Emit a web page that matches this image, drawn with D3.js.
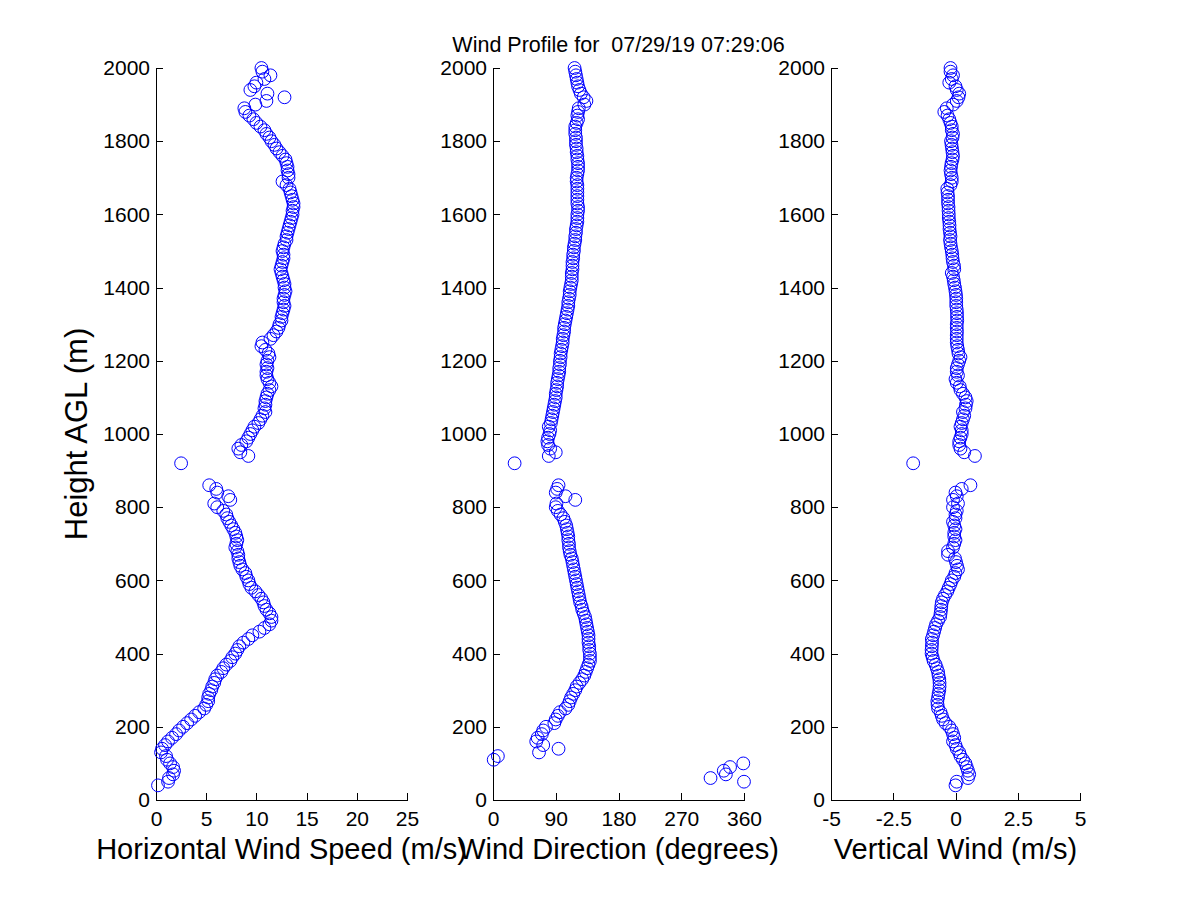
<!DOCTYPE html>
<html>
<head>
<meta charset="utf-8">
<script src="https://cdn.jsdelivr.net/npm/d3@7"></script>
<style>
  body { margin: 0; background: #fff; }
  svg { font-family: "Liberation Sans", Arial, sans-serif; }
</style>
</head>
<body>
<svg width="1200" height="900"></svg>
<script>
// range gate heights (m AGL)
const heights = [
  40, 50, 60, 70, 80, 90, 100, 110, 120, 130,
  140, 150, 160, 170, 180, 190, 200, 210, 220, 230,
  240, 250, 260, 270, 280, 290, 300, 310, 320, 330,
  340, 350, 360, 370, 380, 390, 400, 410, 420, 430,
  440, 450, 460, 470, 480, 490, 500, 510, 520, 530,
  540, 550, 560, 570, 580, 590, 600, 610, 620, 630,
  640, 650, 660, 670, 680, 690, 700, 710, 720, 730,
  740, 750, 760, 770, 780, 790, 800, 810, 820, 830,
  840, 850, 860, 920, 940, 950, 960, 970, 980, 990,
  1000, 1010, 1020, 1030, 1040, 1050, 1060, 1070, 1080, 1090,
  1100, 1110, 1120, 1130, 1140, 1150, 1160, 1170, 1180, 1190,
  1200, 1210, 1220, 1230, 1240, 1250, 1260, 1270, 1280, 1290,
  1300, 1310, 1320, 1330, 1340, 1350, 1360, 1370, 1380, 1390,
  1400, 1410, 1420, 1430, 1440, 1450, 1460, 1470, 1480, 1490,
  1500, 1510, 1520, 1530, 1540, 1550, 1560, 1570, 1580, 1590,
  1600, 1610, 1620, 1630, 1640, 1650, 1660, 1670, 1680, 1690,
  1700, 1710, 1720, 1730, 1740, 1750, 1760, 1770, 1780, 1790,
  1800, 1810, 1820, 1830, 1840, 1850, 1860, 1870, 1880, 1890,
  1900, 1910, 1920, 1930, 1940, 1950, 1960, 1970, 1980, 1990,
  2000
];

// horizontal wind speed (m/s)
const speed = [
  0.2, 1.2, 1.3, 1.7, 1.8, 1.7, 1.4, 1.1, 1.0, 0.5,
  0.6, 0.9, 1.2, 1.6, 2.0, 2.3, 2.7, 3.1, 3.5, 3.9,
  4.3, 4.8, 5.0, 5.2, 5.2, 5.3, 5.5, 5.6, 5.8, 5.9,
  6.1, 6.5, 6.7, 7.0, 7.4, 7.6, 7.9, 8.1, 8.3, 8.7,
  9.2, 9.6, 10.3, 10.8, 11.3, 11.5, 11.5, 11.3, 11.0, 10.8,
  10.7, 10.5, 10.2, 9.9, 9.5, 9.3, 9.2, 9.0, 8.9, 8.6,
  8.4, 8.3, 8.2, 8.2, 8.1, 7.9, 8.0, 8.1, 8.0, 7.9,
  7.7, 7.5, 7.3, 7.1, 7.0, 6.7, 6.1, 5.8, 7.4, 7.2,
  6.1, 6.0, 5.3, 2.5, 9.2, 8.4, 8.2, 8.5, 9.0, 9.2,
  9.4, 9.6, 9.8, 10.2, 10.4, 10.6, 10.9, 10.8, 10.9, 10.9,
  11.0, 11.1, 11.3, 11.5, 11.3, 11.1, 11.0, 11.0, 11.1, 11.0,
  11.1, 11.3, 11.2, 10.9, 10.5, 10.6, 11.4, 11.7, 12.0, 12.2,
  12.3, 12.5, 12.5, 12.6, 12.7, 12.8, 12.7, 12.7, 12.8, 12.9,
  12.8, 12.8, 12.7, 12.6, 12.5, 12.4, 12.5, 12.6, 12.7, 12.7,
  12.6, 12.7, 12.8, 13.0, 13.0, 13.1, 13.2, 13.3, 13.4, 13.5,
  13.6, 13.6, 13.7, 13.7, 13.6, 13.5, 13.4, 13.3, 13.0, 12.6,
  13.2, 13.2, 13.1, 13.1, 13.0, 12.9, 12.6, 12.3, 12.0, 11.8,
  11.5, 11.3, 11.0, 10.8, 10.4, 10.0, 9.7, 9.3, 8.9, 8.8,
  9.9, 11.0, 12.8, 11.1, 9.4, 9.8, 10.0, 10.8, 11.4, 10.6,
  10.5
];

// wind direction (degrees), null = no value
const direction = [
  null, 360, 312, 334, 331, 340, 359, 1, 7, 66,
  94, 72, 62, 64, 70, 72, 76, 88, 90, 93,
  96, 104, 108, 110, 112, 115, 118, 120, 124, 128,
  131, 133, 135, 137, 139, 139, 139, 138, 138, 137,
  137, 137, 136, 135, 134, 133, 132, 130, 128, 127,
  125, 124, 123, 122, 121, 120, 119, 118, 117, 116,
  115, 114, 113, 111, 110, 109, 109, 108, 108, 107,
  106, 105, 103, 101, 97, 93, 90, 91, 118, 104,
  90, 92, 94, 31, 80, 90, 82, 79, 78, 79,
  81, 82, 80, 83, 84, 85, 86, 87, 88, 89,
  90, 90, 91, 92, 92, 93, 94, 95, 95, 96,
  96, 97, 97, 98, 99, 100, 100, 101, 102, 102,
  103, 104, 105, 106, 107, 108, 108, 109, 110, 110,
  111, 112, 113, 113, 113, 114, 114, 114, 115, 115,
  116, 116, 117, 118, 118, 119, 119, 120, 121, 121,
  121, 122, 122, 121, 121, 121, 121, 121, 121, 120,
  120, 121, 122, 122, 122, 121, 121, 120, 120, 119,
  119, 119, 118, 118, 118, 120, 122, 121, 122, 123,
  131, 134, 130, 126, 124, 122, 121, 120, 119, 118,
  117
];

// vertical wind (m/s)
const vertical = [
  0.0, 0.05, 0.5, 0.55, 0.5, 0.45, 0.4, 0.3, 0.2, 0.15,
  0.05, 0.0, -0.1, -0.05, -0.1, -0.15, -0.25, -0.4, -0.5, -0.55,
  -0.6, -0.7, -0.72, -0.73, -0.7, -0.68, -0.65, -0.64, -0.64, -0.65,
  -0.68, -0.7, -0.75, -0.8, -0.88, -0.92, -0.96, -0.96, -0.95, -0.94,
  -0.95, -0.9, -0.86, -0.82, -0.78, -0.7, -0.62, -0.6, -0.58, -0.57,
  -0.55, -0.5, -0.42, -0.33, -0.27, -0.2, -0.15, -0.05, 0.0, 0.1,
  0.06, 0.02, -0.02, -0.3, -0.3, -0.1, -0.05, 0.0, -0.05, -0.05,
  0.0, -0.05, -0.1, 0.0, 0.0, 0.05, -0.1, 0.1, -0.1, 0.05,
  0.0, 0.25, 0.6, -1.7, 0.78, 0.35, 0.2, 0.15, 0.15, 0.2,
  0.25, 0.25, 0.2, 0.25, 0.3, 0.35, 0.3, 0.4, 0.42, 0.45,
  0.4, 0.3, 0.2, 0.17, 0.05, 0.0, 0.1, 0.05, 0.05, 0.1,
  0.15, 0.2, 0.12, 0.1, 0.07, 0.05, 0.05, 0.05, 0.06, 0.05,
  0.05, 0.07, 0.06, 0.06, 0.05, 0.03, 0.03, 0.03, 0.02, 0.0,
  -0.02, -0.05, -0.07, -0.1, -0.15, -0.05, -0.06, -0.1, -0.12, -0.13,
  -0.15, -0.18, -0.2, -0.22, -0.2, -0.22, -0.24, -0.24, -0.25, -0.27,
  -0.27, -0.28, -0.28, -0.3, -0.3, -0.3, -0.32, -0.33, -0.2, -0.15,
  -0.15, -0.18, -0.2, -0.18, -0.16, -0.12, -0.1, -0.12, -0.14, -0.16,
  -0.18, -0.12, -0.1, -0.15, -0.15, -0.2, -0.25, -0.32, -0.45, -0.35,
  -0.1, 0.05, 0.12, 0.15, 0.05, 0.0, -0.25, -0.15, -0.1, -0.2,
  -0.2
];

const yTicks = [0, 200, 400, 600, 800, 1000, 1200, 1400, 1600, 1800, 2000];
const speedTicks = [0, 5, 10, 15, 20, 25];
const dirTicks = [0, 90, 180, 270, 360];
const vertTicks = [-5, -2.5, 0, 2.5, 5];

const titleText = 'Wind Profile for  07/29/19 07:29:06';

const svg = d3.select('svg');

const TOP = 68;
const BOTTOM = 800;

const yScale = d3.scaleLinear()
  .domain([0, 2000])
  .range([BOTTOM, TOP]);

const panels = [
  { values: speed, domain: [0, 25], ticks: speedTicks, left: 156, right: 407, label: 'Horizontal Wind Speed (m/s)' },
  { values: direction, domain: [0, 360], ticks: dirTicks, left: 493, right: 744, label: 'Wind Direction (degrees)' },
  { values: vertical, domain: [-5, 5], ticks: vertTicks, left: 831, right: 1080, label: 'Vertical Wind (m/s)' }
];

panels.forEach(p => {
  const xScale = d3.scaleLinear()
    .domain(p.domain)
    .range([p.left, p.right]);

  const g = svg.append('g');

  g.append('g')
    .attr('transform', `translate(${p.left},0)`)
    .call(d3.axisLeft(yScale)
      .tickValues(yTicks)
      .tickSizeInner(-7)
      .tickSizeOuter(0)
      .tickPadding(6)
      .tickFormat(d => String(d)));

  g.append('g')
    .attr('transform', `translate(0,${BOTTOM})`)
    .call(d3.axisBottom(xScale)
      .tickValues(p.ticks)
      .tickSizeInner(-7)
      .tickSizeOuter(0)
      .tickPadding(11)
      .tickFormat(d => String(d)));

  g.selectAll('.tick text')
    .style('font-size', '21px')
    .style('font-family', '"Liberation Sans", Arial, sans-serif')
    .style('fill', '#000');

  g.selectAll('.domain, .tick line')
    .style('stroke', '#000')
    .style('shape-rendering', 'crispEdges');

  const pts = heights
    .map((h, i) => ({ h: h, v: p.values[i] }))
    .filter(d => d.v !== null);

  g.selectAll('circle')
    .data(pts)
    .join('circle')
    .attr('cx', d => xScale(d.v))
    .attr('cy', d => yScale(d.h))
    .attr('r', 6.4)
    .style('fill', 'none')
    .style('stroke', '#0000ff')
    .style('stroke-width', 1);

  g.append('text')
    .text(p.label)
    .attr('x', (p.left + p.right) / 2)
    .attr('y', 859)
    .style('text-anchor', 'middle')
    .style('font-size', '29px')
    .style('fill', '#000');
});

svg.append('text')
  .text('Height AGL (m)')
  .attr('transform', `translate(87,${(TOP + BOTTOM) / 2}) rotate(-90)`)
  .style('text-anchor', 'middle')
  .style('font-size', '31px')
  .style('fill', '#000');

svg.append('text')
  .text(titleText)
  .attr('x', (panels[1].left + panels[1].right) / 2)
  .attr('y', 52)
  .style('text-anchor', 'middle')
  .style('white-space', 'pre')
  .style('font-size', '21.5px')
  .style('fill', '#000');
</script>
</body>
</html>
